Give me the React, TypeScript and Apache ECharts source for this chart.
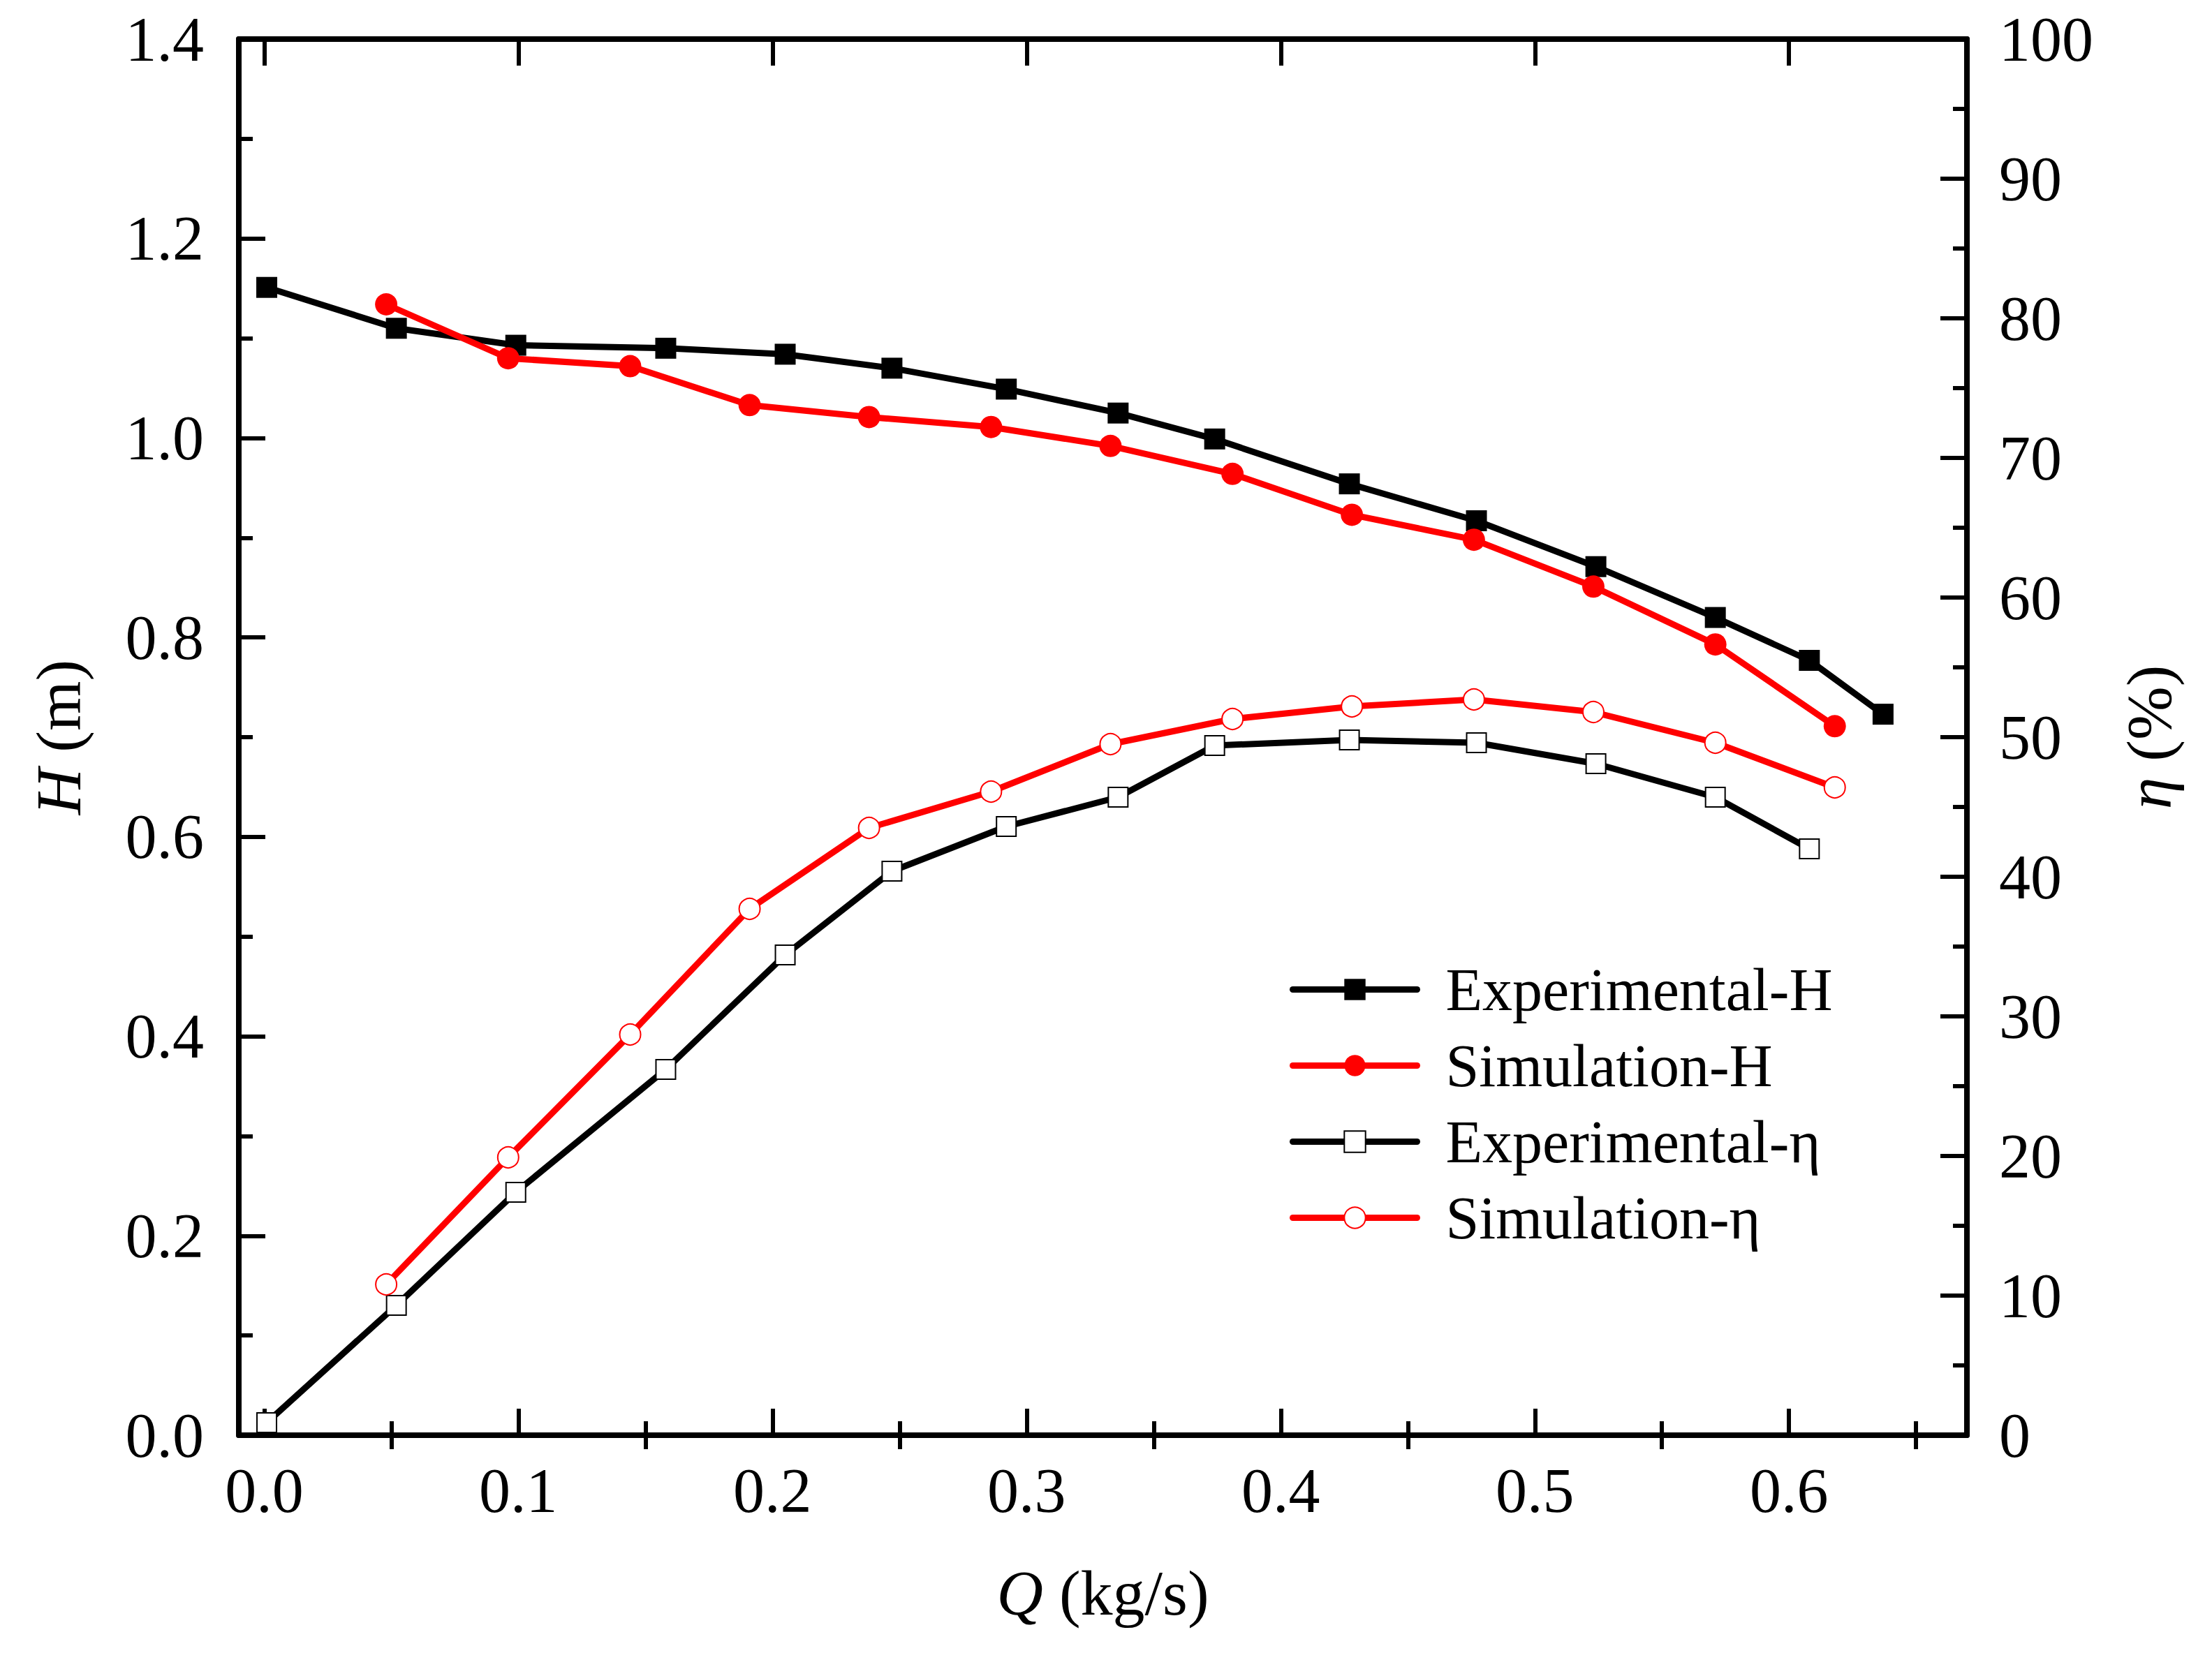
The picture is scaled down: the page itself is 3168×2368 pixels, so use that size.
import { useEffect, useRef } from 'react';
import * as echarts from 'echarts';

// flow rate of the measured points (kg/s)
const qExp = [0.001, 0.052, 0.099, 0.158, 0.205, 0.247, 0.292, 0.336, 0.374, 0.427, 0.477, 0.524, 0.571, 0.608, 0.637];
// head (m) and efficiency (%) measured
const hExp = [1.151, 1.110, 1.093, 1.090, 1.084, 1.070, 1.049, 1.025, 0.999, 0.954, 0.917, 0.871, 0.820, 0.777, 0.723];
const etaExp = [0.9, 9.3, 17.4, 26.2, 34.4, 40.4, 43.6, 45.7, 49.4, 49.8, 49.6, 48.1, 45.7, 42.0];

// simulated points
const qSim = [0.048, 0.096, 0.144, 0.191, 0.238, 0.286, 0.333, 0.381, 0.428, 0.476, 0.523, 0.571, 0.618];
const hSim = [1.134, 1.080, 1.072, 1.033, 1.021, 1.011, 0.992, 0.964, 0.923, 0.898, 0.851, 0.793, 0.711];
const etaSim = [10.8, 19.9, 28.7, 37.7, 43.5, 46.1, 49.5, 51.3, 52.2, 52.7, 51.8, 49.6, 46.4];

// x axis ticks
const xMajor = [0, 0.1, 0.2, 0.3, 0.4, 0.5, 0.6];
const xMinor = [0.05, 0.15, 0.25, 0.35, 0.45, 0.55, 0.65];

const FONT = 'Liberation Serif';
const X_MIN = -0.01;
const X_MAX = 0.67;

const zip = (xs: number[], ys: number[]) => ys.map((y, i) => [xs[i], y]);

const App = () => {
  const chartRef = useRef<HTMLDivElement>(null);

  useEffect(() => {
    if (!chartRef.current) return;
    document.body.style.margin = '0';
    const chart = echarts.init(chartRef.current, null, { renderer: 'svg' });

    const axisLine = { show: true, onZero: false, lineStyle: { color: '#000', width: 8 } };
    const tickStyle = { color: '#000', width: 6 };
    const label = { color: '#000', fontFamily: FONT, fontSize: 90 };
    const nameStyle = {
      color: '#000', fontFamily: FONT, fontSize: 92,
      rich: { i: { fontStyle: 'italic', fontFamily: FONT, fontSize: 92, color: '#000' } },
    };

    const xBase = {
      type: 'value' as const,
      min: X_MIN,
      max: X_MAX,
      splitLine: { show: false },
    };

    chart.setOption({
      animation: false,
      backgroundColor: '#fff',
      grid: { left: 342, right: 351, top: 56, bottom: 312 },
      legend: {
        orient: 'vertical',
        left: 1842,
        top: 1368,
        itemWidth: 178,
        itemHeight: 38,
        itemGap: 20,
        lineStyle: { width: 9, cap: 'round' },
        textStyle: { color: '#000', fontFamily: FONT, fontSize: 86, lineHeight: 89, padding: [0, 0, 0, 36] },
        data: ['Experimental-H', 'Simulation-H', 'Experimental-η', 'Simulation-η'],
      },
      xAxis: [
        {
          ...xBase,
          position: 'bottom',
          name: '{i|Q} (kg/s)',
          nameLocation: 'middle',
          nameGap: 180,
          nameTextStyle: nameStyle,
          axisLine,
          axisTick: { inside: true, length: 38, lineStyle: tickStyle, customValues: xMajor },
          axisLabel: { ...label, margin: 34, customValues: xMajor, formatter: (v: number) => v.toFixed(1) },
        },
        {
          ...xBase,
          position: 'bottom',
          axisLine: { show: false },
          axisTick: { inside: true, length: 20, lineStyle: tickStyle, customValues: xMinor },
          axisLabel: { show: false },
        },
        {
          ...xBase,
          position: 'top',
          axisLine,
          axisTick: { inside: true, length: 38, lineStyle: tickStyle, customValues: xMajor },
          axisLabel: { show: false },
        },
        {
          ...xBase,
          position: 'top',
          axisLine: { show: false },
          axisTick: { inside: true, length: 20, lineStyle: tickStyle, customValues: xMinor },
          axisLabel: { show: false },
        },
      ],
      yAxis: [
        {
          type: 'value',
          position: 'left',
          min: 0,
          max: 1.4,
          interval: 0.2,
          name: '{i|H} (m)',
          nameLocation: 'middle',
          nameRotate: 90,
          nameGap: 212,
          nameTextStyle: nameStyle,
          splitLine: { show: false },
          axisLine,
          axisTick: { inside: true, length: 38, lineStyle: tickStyle },
          minorTick: { show: true, splitNumber: 2, length: 20, lineStyle: tickStyle },
          axisLabel: { ...label, margin: 50, padding: [22, 0, 0, 0], formatter: (v: number) => v.toFixed(1) },
        },
        {
          type: 'value',
          position: 'right',
          min: 0,
          max: 100,
          interval: 10,
          name: '{i|η} (%)',
          nameLocation: 'middle',
          nameRotate: 90,
          nameGap: 215,
          nameTextStyle: nameStyle,
          splitLine: { show: false },
          axisLine,
          axisTick: { inside: true, length: 38, lineStyle: tickStyle },
          minorTick: { show: true, splitNumber: 2, length: 20, lineStyle: tickStyle },
          axisLabel: { ...label, margin: 46, padding: [22, 0, 0, 0] },
        },
      ],
      series: [
        {
          name: 'Experimental-H',
          type: 'line',
          yAxisIndex: 0,
          data: zip(qExp, hExp),
          symbol: 'rect',
          symbolSize: 30,
          lineStyle: { color: '#000', width: 9 },
          itemStyle: { color: '#000' },
        },
        {
          name: 'Simulation-H',
          type: 'line',
          yAxisIndex: 0,
          data: zip(qSim, hSim),
          symbol: 'circle',
          symbolSize: 32,
          lineStyle: { color: '#ff0000', width: 9 },
          itemStyle: { color: '#ff0000' },
        },
        {
          name: 'Experimental-η',
          type: 'line',
          yAxisIndex: 1,
          data: zip(qExp, etaExp),
          symbol: 'emptyRect',
          symbolSize: 28,
          lineStyle: { color: '#000', width: 9 },
          itemStyle: { color: '#000', borderColor: '#000', borderWidth: 3 },
        },
        {
          name: 'Simulation-η',
          type: 'line',
          yAxisIndex: 1,
          data: zip(qSim, etaSim),
          symbol: 'emptyCircle',
          symbolSize: 30,
          lineStyle: { color: '#ff0000', width: 9 },
          itemStyle: { color: '#ff0000', borderColor: '#ff0000', borderWidth: 3 },
        },
      ],
    });

    return () => {
      chart.dispose();
    };
  }, []);

  return <div ref={chartRef} style={{ width: 3168, height: 2368 }} />;
};

export default App;
